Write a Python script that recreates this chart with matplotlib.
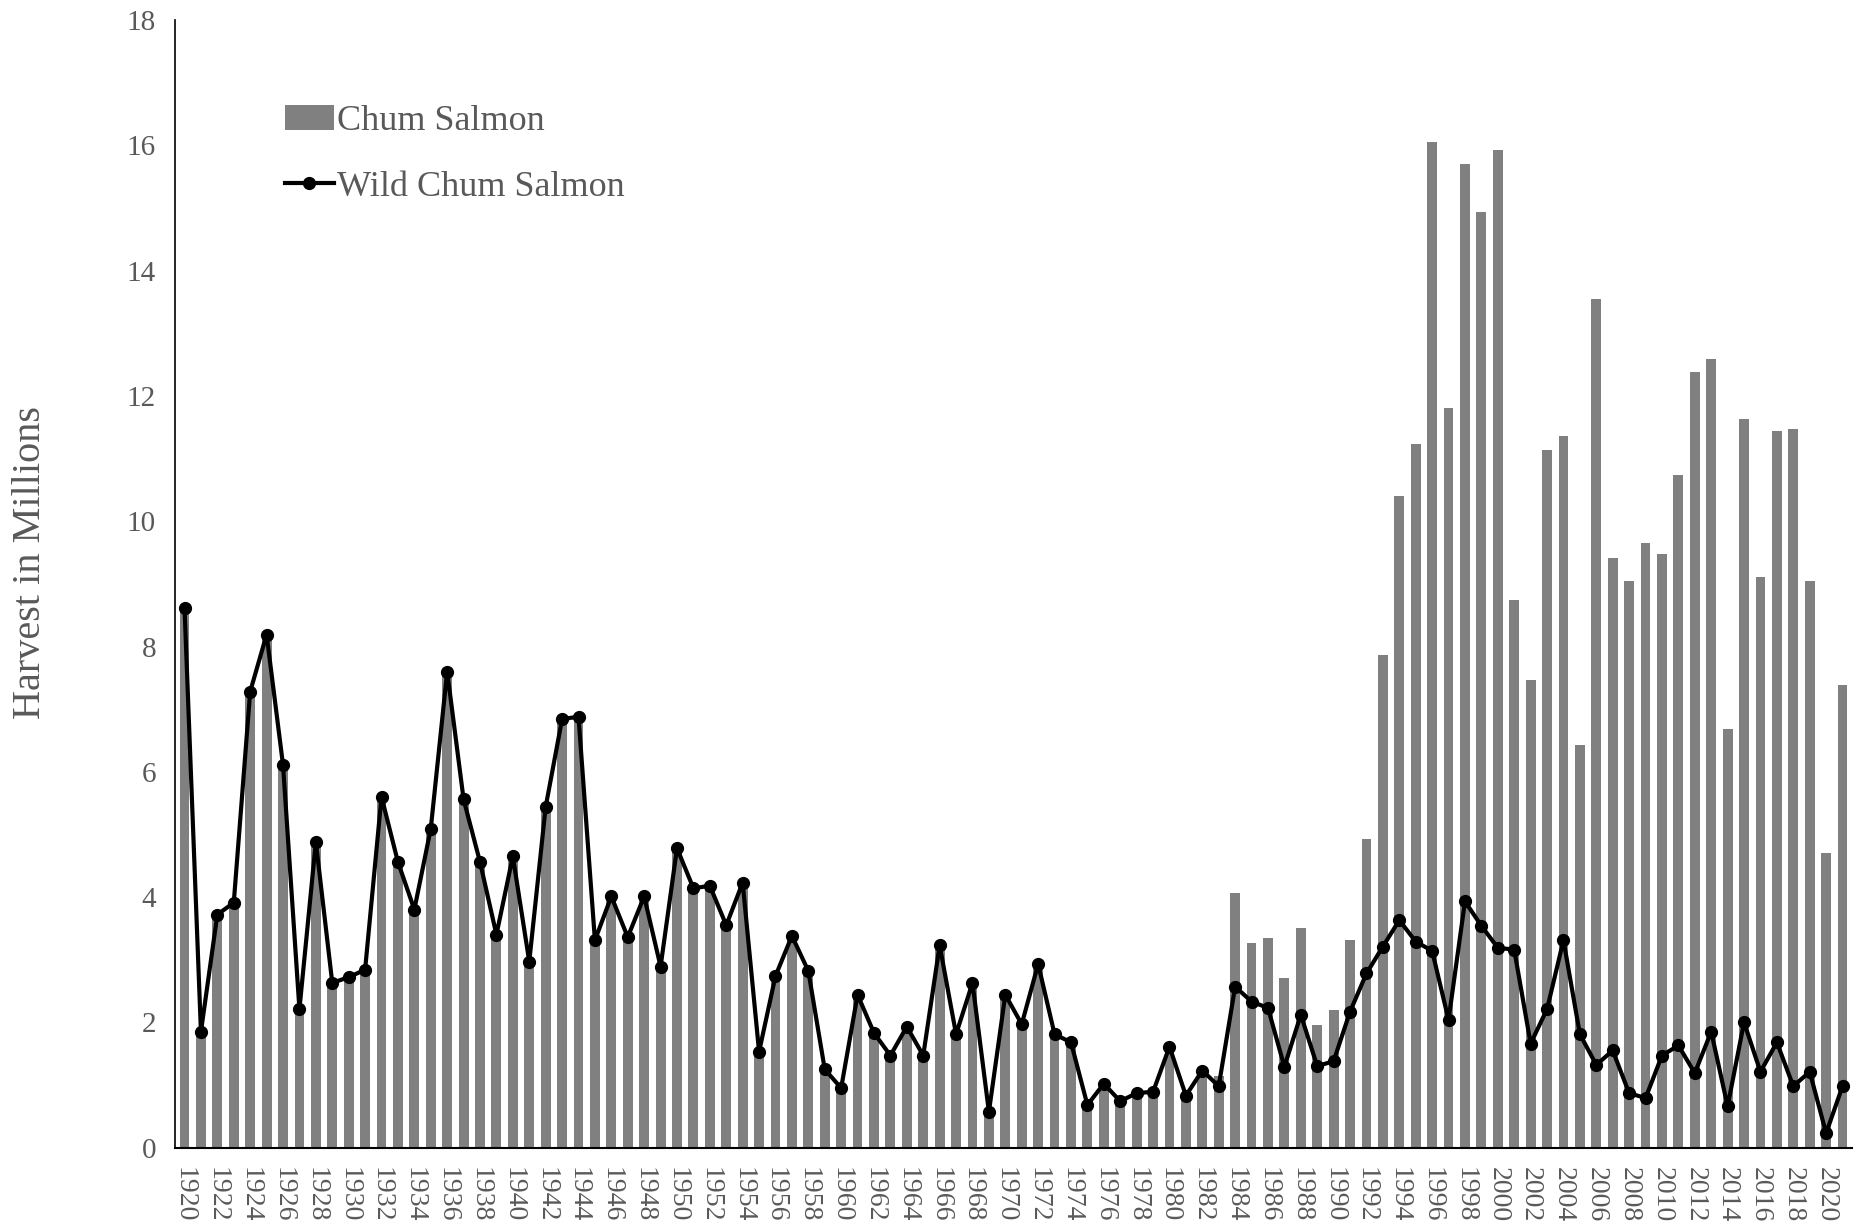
import numpy as np
import matplotlib.pyplot as plt

years = list(range(1920, 2022))

# total chum salmon harvest (millions)
chum_total = [
    8.62, 1.85, 3.72, 3.91, 7.28, 8.19, 6.11, 2.21, 4.88, 2.63,
    2.72, 2.84, 5.60, 4.56, 3.80, 5.09, 7.60, 5.56, 4.56, 3.40,
    4.65, 2.97, 5.44, 6.84, 6.88, 3.31, 4.01, 3.36, 4.01, 2.89,
    4.78, 4.14, 4.18, 3.55, 4.23, 1.53, 2.74, 3.38, 2.82, 1.25,
    0.95, 2.44, 1.83, 1.47, 1.93, 1.47, 3.23, 1.81, 2.63, 0.57,
    2.44, 1.97, 2.93, 1.81, 1.68, 0.68, 1.02, 0.74, 0.87, 0.89,
    1.61, 0.83, 1.23, 1.15, 4.07, 3.26, 3.35, 2.70, 3.51, 1.96,
    2.20, 3.32, 4.93, 7.86, 10.40, 11.23, 16.05, 11.80, 15.71, 14.93,
    15.92, 8.75, 7.47, 11.13, 11.36, 6.43, 13.55, 9.41, 9.05, 9.66,
    9.47, 10.74, 12.38, 12.59, 6.69, 11.64, 9.11, 11.44, 11.47, 9.05,
    4.71, 7.39,
]

# wild chum salmon harvest (millions)
chum_wild = [
    8.62, 1.85, 3.72, 3.91, 7.28, 8.19, 6.11, 2.21, 4.88, 2.63,
    2.72, 2.84, 5.60, 4.56, 3.80, 5.09, 7.60, 5.56, 4.56, 3.40,
    4.65, 2.97, 5.44, 6.84, 6.88, 3.31, 4.01, 3.36, 4.01, 2.89,
    4.78, 4.14, 4.18, 3.55, 4.23, 1.53, 2.74, 3.38, 2.82, 1.25,
    0.95, 2.44, 1.83, 1.47, 1.93, 1.47, 3.23, 1.81, 2.63, 0.57,
    2.44, 1.97, 2.93, 1.81, 1.68, 0.68, 1.02, 0.74, 0.87, 0.89,
    1.61, 0.83, 1.23, 0.98, 2.57, 2.33, 2.23, 1.29, 2.12, 1.30,
    1.38, 2.17, 2.78, 3.21, 3.63, 3.29, 3.14, 2.04, 3.93, 3.54,
    3.19, 3.16, 1.66, 2.21, 3.31, 1.81, 1.32, 1.55, 0.87, 0.79,
    1.47, 1.63, 1.19, 1.85, 0.66, 2.00, 1.21, 1.68, 0.98, 1.21,
    0.23, 0.98,
]

xtick_years = list(range(1920, 2021, 2))

plt.rcParams['font.family'] = ['Liberation Serif', 'DejaVu Serif']
text_grey = '#595959'

fig = plt.figure(figsize=(18.59, 12.22), dpi=100)
ax = fig.add_axes([0.0944, 0.0609, 0.9016, 0.9226])

bars = ax.bar(years, chum_total, width=0.6, color='#808080', label='Chum Salmon', zorder=1)
line, = ax.plot(years, chum_wild, color='black', linewidth=3, marker='o', markersize=8.5,
                label='Wild Chum Salmon', zorder=2)

ax.set_xlim(1919.45, 2021.55)
ax.set_ylim(0, 18)
ax.set_yticks(range(0, 19, 2))
ax.set_xticks(xtick_years)
ax.set_xticklabels([str(y) for y in xtick_years], rotation=270)

ax.tick_params(axis='y', length=0, pad=14, labelsize=21, labelcolor=text_grey)
ax.tick_params(axis='x', length=0, pad=14, labelsize=20, labelcolor=text_grey)

for side in ['top', 'right']:
    ax.spines[side].set_visible(False)
ax.spines['left'].set_linewidth(1.2)
ax.spines['bottom'].set_linewidth(1.5)

ax.set_ylabel('Harvest in Millions', fontsize=29, color=text_grey, labelpad=56, y=0.519)

# legend: bars first, then line
leg = ax.legend([bars, line], ['Chum Salmon', 'Wild Chum Salmon'],
                loc='upper left', bbox_to_anchor=(0.046, 0.954), frameon=False,
                fontsize=26, handlelength=1.35, handletextpad=0.1, labelspacing=0.9)
for t in leg.get_texts():
    t.set_color(text_grey)

fig.savefig('out.png', dpi=100)
